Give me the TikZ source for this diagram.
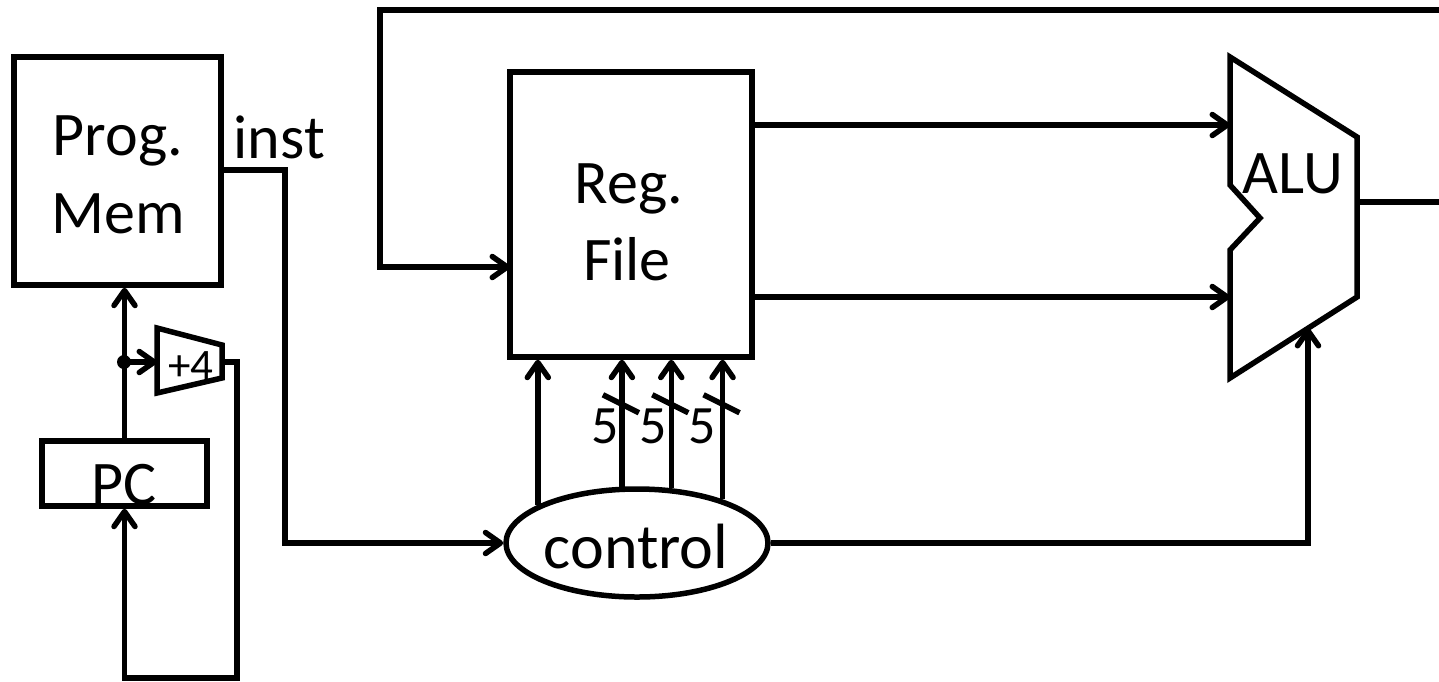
\documentclass[tikz,border=0pt]{standalone}
\usepackage{fontspec}
\setmainfont{Carlito}
\usetikzlibrary{arrows.meta,shapes.geometric,calc}
\begin{document}
\begin{tikzpicture}[x=1pt,y=-1pt,line width=5.5pt,
  every path/.style={line width=5.5pt, line join=miter},
  box/.style={draw, line width=5.5pt, rectangle, inner sep=0pt},
  arr/.style={-{Straight Barb[length=15pt,width=21pt,line cap=round,line join=round]}},
  big/.style={inner sep=0pt, anchor=base, font=\fontsize{62}{74}\selectfont},
  mid/.style={inner sep=0pt, anchor=base, font=\fontsize{54}{64}\selectfont},
  small/.style={inner sep=0pt, anchor=base, font=\fontsize{45}{54}\selectfont}]
\useasboundingbox (0,0) rectangle (1439,681);

% boxes
\node[box, minimum width=207pt, minimum height=228pt] (pm) at (117.5,171) {};
\node[box, minimum width=242pt, minimum height=285pt] (rf) at (631,214.5) {};
\node[box, minimum width=165pt, minimum height=65pt] (pc) at (124.5,473.5) {};
\node[draw, ellipse, line width=5.5pt, inner sep=0pt, minimum width=262pt, minimum height=108pt] (ctrl) at (637,543) {};

% texts
\node[big] (tprog) at (118,155) {Prog.};
\node[big] (tmem) at (118,233) {Mem};
\node[big, anchor=base west] (tinst) at (231,158) {inst};
\node[big] (treg) at (629,203) {Reg.};
\node[big] (tfile) at (627,280) {File};
\node[big] (tpc) at (124,504) {PC};
\node[big, font=\fontsize{64}{76}\selectfont] (tctrl) at (636,568) {control};
\node[big] (talu) at (1293,193) {ALU};

% ALU shape
\coordinate (a1) at (1230,57);
\coordinate (a2) at (1357,137);
\coordinate (a3) at (1357,297);
\coordinate (a4) at (1230,378);
\coordinate (n1) at (1230,185);
\coordinate (n2) at (1260,218);
\coordinate (n3) at (1230,250);
\draw (a1) -- (a2) -- (a3) -- (a4) -- (n3) -- (n2) -- (n1) -- cycle;
\coordinate (aluin1) at (1230,125);
\coordinate (aluin2) at (1230,297);
\coordinate (aluctl) at (1308,328);
\coordinate (aluout) at (1357,202);
\coordinate (outR) at (1439,202);
\draw (aluout) -- (outR);

% feedback to reg file
\coordinate (topR) at (1439,10);
\coordinate (fbx) at (380,10);
\coordinate (rfin) at (510,267);
\draw[arr] (topR) -- (fbx) |- (rfin);

% reg file outputs
\draw[arr] (rf.east |- aluin1) -- (aluin1);
\draw[arr] (rf.east |- aluin2) -- (aluin2);

% inst wire
\coordinate (instx) at (285,170);
\draw[arr] (pm.east |- instx) -- (instx) |- (ctrl.west);

% control outputs
\draw[arr] (ctrl.east) -| (aluctl);
\draw[arr] (ctrl.159.2) -- (ctrl.159.2 |- rf.south);
\foreach \a/\n in {105.9/b, 58.9/c, 27.6/d} {
  \draw[arr] (ctrl.\a) -- (ctrl.\a |- rf.south);
  \draw ($(ctrl.\a |- rf.south)+(-19,35)$) -- ($(ctrl.\a |- rf.south)+(17,53)$);
}
\node[mid] (f1) at (605,443) {5};
\node[mid] (f2) at (653,443) {5};
\node[mid] (f3) at (702,443) {5};

% PC and +4
\draw[arr] (pc.north) -- (pc.north |- pm.south);
\coordinate (split) at (124,362);
\fill (split) circle (7);
\coordinate (p1) at (157,328);
\coordinate (p2) at (222,345);
\coordinate (p3) at (222,378);
\coordinate (p4) at (157,393);
\draw (p1) -- (p2) -- (p3) -- (p4) -- cycle;
\node[small] (tplus) at (191,380) {+4};
\coordinate (addin) at (157,362);
\coordinate (addout) at (222,362);
\draw[arr] (split) -- (addin);
\coordinate (loopx) at (237,678);
\draw[arr] (addout) -| (loopx) -| (pc.south);
\end{tikzpicture}
\end{document}
